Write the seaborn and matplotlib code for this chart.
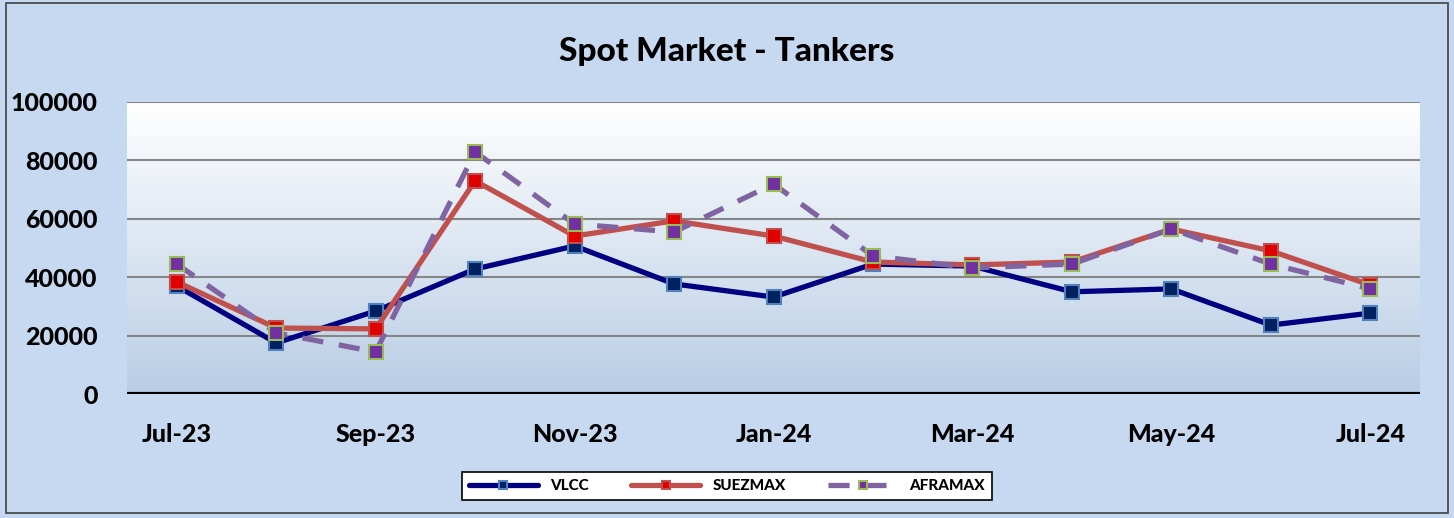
import numpy as np
import pandas as pd
import matplotlib
matplotlib.use('Agg')
import matplotlib.pyplot as plt
import matplotlib.patches as patches
from matplotlib.colors import LinearSegmentedColormap
import seaborn as sns

# Data
months = ['Jul-23', 'Aug-23', 'Sep-23', 'Oct-23', 'Nov-23', 'Dec-23', 'Jan-24',
          'Feb-24', 'Mar-24', 'Apr-24', 'May-24', 'Jun-24', 'Jul-24']
vlcc = [37000, 17500, 28400, 42800, 50700, 37700, 33200, 44500, 43800, 35000, 36000, 23600, 27700]
suezmax = [38400, 22600, 22300, 73000, 54100, 59300, 54100, 45200, 44200, 45200, 56500, 49000, 37300]
aframax = [44500, 20900, 14400, 82900, 58200, 55500, 71900, 47300, 43200, 44500, 56500, 44500, 36000]
y_ticks = [0, 20000, 40000, 60000, 80000, 100000]

df = pd.DataFrame({'pos': range(len(months)), 'month': months,
                   'VLCC': vlcc, 'SUEZMAX': suezmax, 'AFRAMAX': aframax})

sns.set_style('white')
plt.rcParams['font.family'] = ['Lato', 'DejaVu Sans']
plt.rcParams['text.color'] = 'black'
plt.rcParams['xtick.color'] = 'black'
plt.rcParams['ytick.color'] = 'black'

fig = plt.figure(figsize=(14.54, 5.18), dpi=100)
fig.patch.set_facecolor('#C6D9F0')
fig.patches.append(patches.Rectangle((0.004, 0.01), 0.992, 0.985, transform=fig.transFigure,
                                     fill=False, edgecolor='#404040', linewidth=1.2))
ax = fig.add_axes([127 / 1454, 1 - 394 / 518, (1420 - 127) / 1454, (394 - 102) / 518])

# gradient background of the plot area
grad = LinearSegmentedColormap.from_list('bg', ['#B9CDE5', '#FFFFFF'])
ax.imshow(np.linspace(0, 1, 256).reshape(-1, 1), cmap=grad, origin='lower', aspect='auto',
          extent=[-0.5, len(months) - 0.5, 0, 100000], zorder=0)

for v in y_ticks[1:]:
    ax.axhline(v, color='#868686', linewidth=1.5, zorder=1)
ax.axhline(0, color='black', linewidth=3, zorder=2)

sns.lineplot(data=df, x='pos', y='VLCC', ax=ax, color='#000080', linewidth=3.8,
             marker='s', markersize=10, markerfacecolor='#002060', markeredgecolor='#4F81BD',
             markeredgewidth=1.5, label='VLCC', zorder=3)
sns.lineplot(data=df, x='pos', y='SUEZMAX', ax=ax, color='#C0504D', linewidth=3.8,
             marker='s', markersize=10, markerfacecolor='#E00000', markeredgecolor='#C0504D',
             markeredgewidth=1.5, label='SUEZMAX', zorder=4)
sns.lineplot(data=df, x='pos', y='AFRAMAX', ax=ax, color='#8064A2', linewidth=3.8,
             marker='s', markersize=10, markerfacecolor='#7030A0', markeredgecolor='#9BBB59',
             markeredgewidth=1.5, label='AFRAMAX', zorder=5, dashes=(4, 3))

ax.set_xlim(-0.5, len(months) - 0.5)
ax.set_ylim(0, 100000)
ax.set_xticks(df['pos'][::2])
ax.set_xticklabels(df['month'][::2], fontsize=18, fontweight='black')
ax.set_yticks(y_ticks)
ax.set_yticklabels([str(v) for v in y_ticks], fontsize=18, fontweight='black')
ax.tick_params(axis='both', length=0)
ax.tick_params(axis='y', pad=21)
ax.tick_params(axis='x', pad=21)
ax.set_xlabel('')
ax.set_ylabel('')
for s in ax.spines.values():
    s.set_visible(False)

fig.text(0.5, 1 - 52 / 518, 'Spot Market - Tankers', ha='center', va='center',
         fontsize=24, fontweight='black')

leg = ax.legend(loc='center', bbox_to_anchor=(0.5, 1 - 486 / 518), bbox_transform=fig.transFigure,
                ncol=3, frameon=True, fancybox=False, edgecolor='black', facecolor='white',
                framealpha=1, handlelength=4.5, columnspacing=2.8, borderpad=0.45,
                markerscale=0.6, prop={'weight': 'black', 'size': 11})
leg.get_frame().set_linewidth(1.2)

fig.savefig('out.png', dpi=100, facecolor=fig.get_facecolor())
